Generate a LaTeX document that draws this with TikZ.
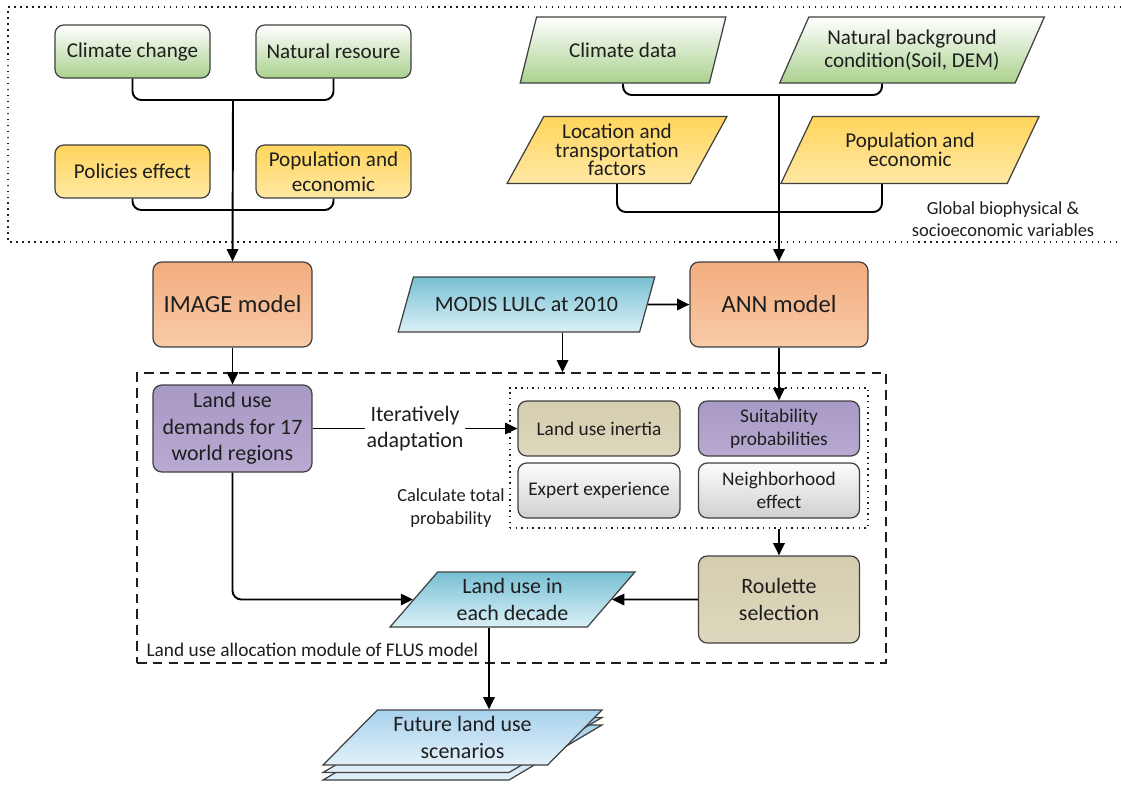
\documentclass[tikz,border=0pt]{standalone}
\usepackage{fontspec}
\setmainfont{Carlito}
\usetikzlibrary{arrows.meta,shapes.geometric}

\definecolor{ink}{HTML}{1E1E1E}
\definecolor{edge}{HTML}{404040}
\newcommand{\modelfs}{\fontsize{14}{16}\selectfont}
\newcommand{\mainfs}{\fontsize{12.5}{15}\selectfont}
\newcommand{\topfs}{\fontsize{12}{14.5}\selectfont}
\newcommand{\smallfs}{\fontsize{11}{13}\selectfont}

\begin{document}
\begin{tikzpicture}[line width=0.8pt,>={Triangle[length=7pt,width=6.5pt]},
  box/.style={draw=edge,line width=0.7pt,rounded corners=5pt,align=center,text=ink,
    minimum width=3.1cm,minimum height=1.06cm,inner sep=2pt},
  para/.style={trapezium,trapezium left angle=60,trapezium right angle=120,
    trapezium stretches=true,draw=edge,line width=0.7pt,align=center,text=ink,inner sep=1pt},
  greenfill/.style={top color=green!12!white!90!black!0,bottom color={rgb,255:red,170;green,209;blue,142}},
  yellowfill/.style={top color={rgb,255:red,255;green,213;blue,92},bottom color={rgb,255:red,255;green,232;blue,164}},
  orangefill/.style={top color={rgb,255:red,243;green,172;blue,126},bottom color={rgb,255:red,248;green,203;blue,168}},
  purplefill/.style={top color={rgb,255:red,168;green,153;blue,197},bottom color={rgb,255:red,184;green,170;blue,210}},
  tanfill/.style={top color={rgb,255:red,212;green,205;blue,174},bottom color={rgb,255:red,222;green,216;blue,190}},
  grayfill/.style={top color={rgb,255:red,252;green,252;blue,252},bottom color={rgb,255:red,208;green,208;blue,208}},
  bluefill/.style={top color={rgb,255:red,120;green,192;blue,212},bottom color={rgb,255:red,218;green,240;blue,247}},
  paleblue/.style={top color={rgb,255:red,168;green,210;blue,236},bottom color={rgb,255:red,226;green,240;blue,250}},
  link/.style={line width=1.1pt,draw=black,rounded corners=5pt},
]
\useasboundingbox (0,0) rectangle (22.42,-15.72);
% ---------- global variables frame ----------
\draw[ink,line width=0.8pt,dash pattern=on 0.8pt off 2.6pt] (22.42,-0.14) -- (0.16,-0.14) -- (0.16,-4.84) -- (22.42,-4.84);
\node[font=\fontsize{10.5}{12.5}\selectfont,align=center,text=ink] (globlabel) at (20.06,-4.38) {Global biophysical \&\\socioeconomic variables};
% ---------- IMAGE inputs ----------
\node[box,greenfill,font=\topfs] (climchg) at (2.65,-1.03) {Climate change};
\node[box,greenfill,font=\topfs] (natres) at (6.67,-1.03) {Natural resoure};
\node[box,yellowfill,font=\topfs] (policy) at (2.65,-3.43) {Policies effect};
\node[box,yellowfill,font=\topfs] (popleft) at (6.67,-3.43) {Population and\\economic};
% ---------- ANN inputs ----------
\node[para,greenfill,font=\topfs,minimum width=4.14cm,minimum height=1.32cm] (cdata) at (12.46,-1.0) {Climate data};
\node[para,greenfill,font=\fontsize{12}{13}\selectfont,minimum width=5.3cm,minimum height=1.32cm] (natbg) at (18.24,-1.0) {Natural background\\condition(Soil, DEM)};
\node[para,yellowfill,font=\fontsize{12}{10.5}\selectfont,minimum width=4.4cm,minimum height=1.34cm] (loc) at (12.34,-3.0) {Location and\\transportation\\factors};
\node[para,yellowfill,font=\fontsize{12}{11}\selectfont,minimum width=5.2cm,minimum height=1.34cm] (popright) at (18.2,-3.0) {Population and\\economic};
% ---------- models ----------
\node[box,orangefill,font=\modelfs,minimum width=3.18cm,minimum height=1.7cm] (image) at (4.65,-6.09) {IMAGE model};
\node[box,orangefill,font=\modelfs,minimum width=3.56cm,minimum height=1.7cm] (ann) at (15.58,-6.09) {ANN model};
\node[para,bluefill,font=\mainfs,minimum width=5.14cm,minimum height=1.1cm,
  trapezium left angle=55,trapezium right angle=125] (modis) at (10.53,-6.09) {MODIS LULC at 2010};
% ---------- FLUS allocation module ----------
\node[draw=ink,line width=0.8pt,dash pattern=on 5.5pt off 3.5pt,minimum width=14.98cm,minimum height=5.8cm] (flus) at (10.23,-10.36) {};
\node[draw=ink,line width=0.8pt,dash pattern=on 0.8pt off 2.4pt,minimum width=7.16cm,minimum height=2.8cm] (calcbox) at (13.78,-9.16) {};
\node[box,purplefill,font=\mainfs,minimum width=3.18cm,minimum height=1.74cm] (demand) at (4.65,-8.57) {Land use\\demands for 17\\world regions};
\node[box,tanfill,font=\smallfs,minimum width=3.24cm,minimum height=1.1cm] (inertia) at (11.98,-8.57) {Land use inertia};
\node[box,purplefill,font=\smallfs,minimum width=3.22cm,minimum height=1.1cm] (suit) at (15.58,-8.57) {Suitability\\probabilities};
\node[box,grayfill,font=\smallfs,minimum width=3.24cm,minimum height=1.1cm] (expert) at (11.98,-9.81) {Expert experience};
\node[box,grayfill,font=\smallfs,minimum width=3.22cm,minimum height=1.1cm] (neigh) at (15.58,-9.81) {Neighborhood\\effect};
\node[font=\fontsize{10.5}{13}\selectfont,align=center,text=ink] (calclabel) at (9.02,-10.16) {Calculate total\\probability};
\node[box,tanfill,font=\mainfs,minimum width=3.22cm,minimum height=1.74cm] (roulette) at (15.58,-11.99) {Roulette\\selection};
\node[para,bluefill,font=\mainfs,minimum width=4.9cm,minimum height=1.1cm,
  trapezium left angle=51,trapezium right angle=129] (decade) at (10.25,-11.99) {Land use in\\each decade};
\node[font=\smallfs,text=ink,anchor=west] (flusl) at (2.8,-13.0) {Land use allocation module of FLUS model};
% ---------- output stack ----------
\node[para,paleblue,minimum width=5.58cm,minimum height=1.1cm,trapezium left angle=45,trapezium right angle=135] (fut3) at (9.25,-15.05) {};
\node[para,paleblue,minimum width=5.58cm,minimum height=1.1cm,trapezium left angle=45,trapezium right angle=135] (fut2) at (9.25,-14.9) {};
\node[para,paleblue,font=\mainfs,minimum width=5.58cm,minimum height=1.1cm,trapezium left angle=45,trapezium right angle=135] (future) at (9.25,-14.75) {Future land use\\scenarios};
% ---------- connectors ----------
\coordinate (ljoin) at (4.66,-2.0);
\coordinate (ljoin2) at (4.66,-4.2);
\coordinate (rjoin) at (15.58,-1.9);
\coordinate (rjoin2) at (15.58,-4.24);
\draw[link] (climchg.south) |- (ljoin) -| (natres.south);
\draw[link] (policy.south) |- (ljoin2) -| (popleft.south);
\draw[link,->] (ljoin) -- (image.north);
\draw[link] (cdata.south) |- (rjoin) -| ([xshift=-0.6cm]natbg.south);
\draw[link] (loc.south) |- (rjoin2) -| ([xshift=-0.56cm]popright.south);
\draw[link,->] (rjoin) -- (ann.north);
\draw[link,->] (image) -- (demand);
\draw[link,->] (modis) -- (ann);
\draw[link,->] ([xshift=0.72cm]modis.south) -- ([xshift=0.72cm]modis.south |- flus.north);
\draw[link,->] (demand) -- node[fill=white,font=\mainfs,align=center,text=ink,inner sep=1pt] (iterlabel) {Iteratively\\adaptation} (inertia);
\draw[link,->] (ann) -- (suit);
\draw[link,->] (calcbox.south -| roulette.north) -- (roulette);
\draw[link,->] (roulette) -- (decade);
\draw[link,->] (demand) |- (decade);
\draw[link,->] ([xshift=-0.47cm]decade.south) -- ([xshift=-0.47cm]decade.south |- future.north);
\end{tikzpicture}
\end{document}
